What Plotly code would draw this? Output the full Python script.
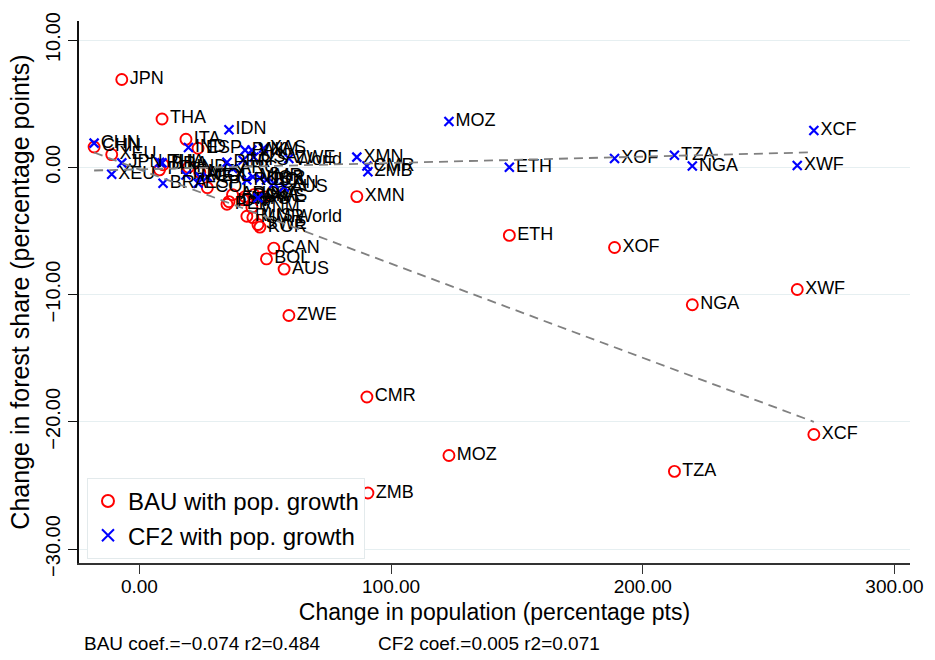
import plotly.graph_objects as go
import numpy as np

# Region codes, change in population (pct. pts) and change in forest share (pct. points)
regions = ["CHN", "XEU", "JPN", "PHL", "THA", "BRA", "ITA", "IND", "ESP", "MEX",
           "COL", "PER", "IDN", "ARG", "MYS", "PAK", "RUS", "VNM", "MMR", "USA",
           "SWE", "KOR", "XAS", "BOL", "CAN", "AUS", "ZWE", "XMN", "CMR", "ZMB",
           "MOZ", "ETH", "XOF", "TZA", "NGA", "XWF", "XCF"]
pop_change = [-18.0, -11.0, -7.0, 8.0, 9.0, 9.4, 18.5, 19.5, 23.3, 24.0,
              27.0, 34.8, 35.6, 37.0, 41.2, 42.0, 42.7, 44.7, 45.1, 45.5,
              47.1, 47.9, 49.3, 50.5, 53.4, 57.5, 59.4, 86.4, 90.4, 90.8,
              123.0, 147.0, 188.8, 212.6, 219.7, 261.4, 268.0]
bau_forest = [1.6, 1.0, 6.9, -0.2, 3.8, 0.2, 2.2, 0.0, 1.5, -0.4,
              -1.6, -2.9, -2.7, -2.15, -2.55, -2.3, -3.85, -3.15, -3.95, -2.15,
              -4.5, -4.7, -2.3, -7.2, -6.35, -8.0, -11.65, -2.3, -18.05, -25.6,
              -22.65, -5.35, -6.3, -23.9, -10.8, -9.6, -21.0]
cf2_forest = [1.9, -0.55, 0.35, 0.4, 0.35, -1.25, -0.6, 1.55, -1.25, -0.75,
              -0.75, 0.4, 2.95, -0.1, 0.55, 1.35, -1.0, 1.35, -0.75, 0.8,
              -2.4, -0.85, 1.5, -1.0, -1.25, -1.55, 0.7, 0.8, 0.1, -0.35,
              3.6, 0.0, 0.7, 0.95, 0.1, 0.15, 2.9]

# World aggregate, shown as a label only
world_label = ["World"]
world_pop = [62.0]
world_bau = [-3.95]
world_cf2 = [0.55]

# Linear fits of forest-share change on population change
scenarios = ["BAU", "CF2"]
fit_slope = [-0.074, 0.005]
fit_intercept = [-0.17, -0.16]
fit_r2 = [0.484, 0.071]

x_ticks = [0, 100, 200, 300]
y_ticks = [10, 0, -10, -20, -30]

FONT = "Liberation Sans, Arial, Helvetica, sans-serif"
RED = "#FF0000"
BLUE = "#0000FF"

fig = go.Figure()

fig.add_trace(go.Scatter(
    x=pop_change, y=bau_forest, text=regions, mode="markers+text",
    name="BAU with pop. growth", textposition="middle right",
    textfont=dict(family=FONT, size=18, color="black"),
    marker=dict(symbol="circle-open", size=11, color=RED, line=dict(width=1.9, color=RED)),
    cliponaxis=False,
))
fig.add_trace(go.Scatter(
    x=pop_change, y=cf2_forest, text=regions, mode="markers+text",
    name="CF2 with pop. growth", textposition="middle right",
    textfont=dict(family=FONT, size=18, color="black"),
    marker=dict(symbol="x-thin-open", size=9, color=BLUE, line=dict(width=2.2, color=BLUE)),
    cliponaxis=False,
))
for yv in (world_bau, world_cf2):
    fig.add_trace(go.Scatter(
        x=world_pop, y=yv, text=world_label, mode="text",
        textposition="middle right", showlegend=False, hoverinfo="skip",
        textfont=dict(family=FONT, size=18, color="black"),
    ))

# fitted lines over the observed population range
xs = np.array([min(pop_change), max(pop_change)])
for b, a in zip(fit_slope, fit_intercept):
    fig.add_trace(go.Scatter(
        x=xs, y=a + b * xs, mode="lines", showlegend=False, hoverinfo="skip",
        line=dict(color="#808080", width=1.8, dash="9px,6px"),
    ))

def fmt(v):
    return f"{v:.3f}".replace("-", "\u2212")

notes = [f"{s} coef.={fmt(b)} r2={r:.3f}" for s, b, r in zip(scenarios, fit_slope, fit_r2)]
fig.add_annotation(text=notes[0], xref="paper", yref="paper", x=0.004, y=-0.149,
                   xanchor="left", yanchor="middle", showarrow=False,
                   font=dict(family=FONT, size=19, color="black"))
fig.add_annotation(text=notes[1], xref="paper", yref="paper", x=0.358, y=-0.149,
                   xanchor="left", yanchor="middle", showarrow=False,
                   font=dict(family=FONT, size=19, color="black"))

fig.update_layout(
    width=935, height=660,
    margin=dict(l=79, r=24, t=14, b=97),
    paper_bgcolor="white", plot_bgcolor="white",
    font=dict(family=FONT, color="black"),
    showlegend=True,
    legend=dict(
        x=0.0096, y=0.157, xanchor="left", yanchor="top",
        bgcolor="white", bordercolor="#E3EAEC", borderwidth=1,
        font=dict(family=FONT, size=24, color="black"),
        itemsizing="constant",
    ),
    xaxis=dict(
        range=[-24.0, 306.2], tickvals=x_ticks, tickformat=".2f",
        showgrid=False, zeroline=False,
        showline=True, linecolor="#333333", linewidth=1.5,
        ticks="outside", ticklen=9, tickcolor="#333333", tickwidth=1.2,
        tickfont=dict(family=FONT, size=19, color="black"),
        ticklabelstandoff=-4,
        title=dict(text="Change in population (percentage pts)",
                   font=dict(family=FONT, size=23, color="black"), standoff=8),
    ),
    yaxis=dict(
        range=[-31.1, 11.5], tickvals=y_ticks, tickformat=".2f", tickangle=-90,
        showgrid=True, gridcolor="#E6EFF1", gridwidth=1.2, zeroline=False,
        showline=True, linecolor="#111111", linewidth=1.5,
        ticks="outside", ticklen=9, tickcolor="#111111", tickwidth=1.2,
        tickfont=dict(family=FONT, size=20, color="black"),
        title=dict(text="Change in forest share (percentage points)",
                   font=dict(family=FONT, size=25, color="black"), standoff=6),
    ),
)

fig.write_html("out.html")
